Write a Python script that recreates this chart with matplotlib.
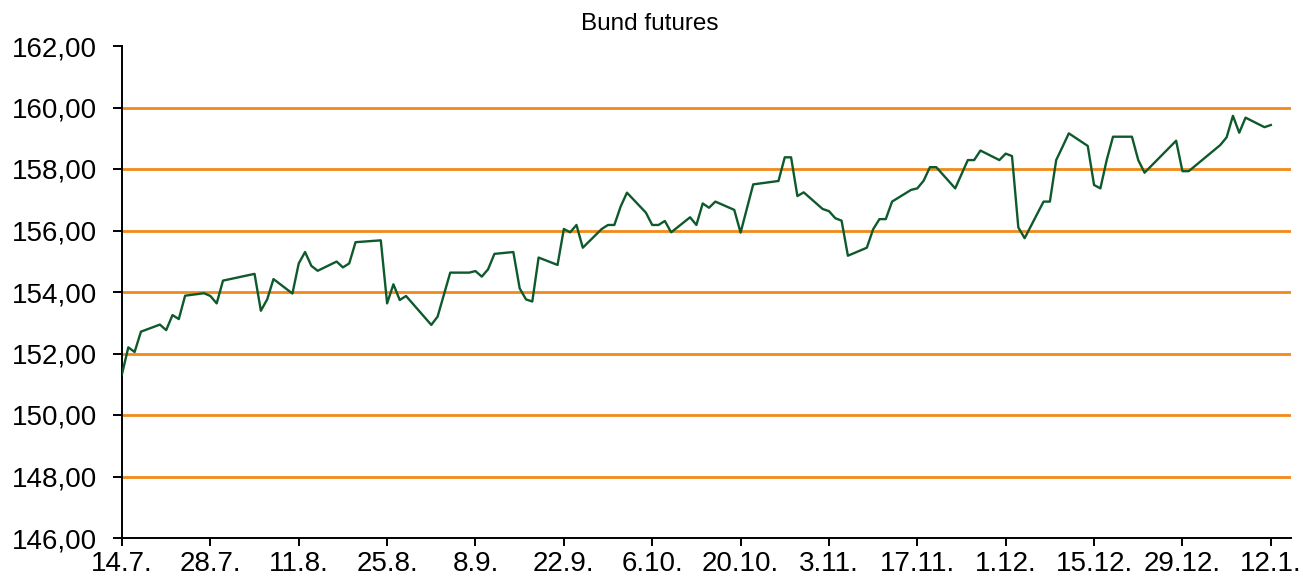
import matplotlib
matplotlib.use("Agg")
import matplotlib.pyplot as plt
import matplotlib.dates as mdates
import numpy as np
from datetime import datetime, timedelta

plt.rcParams['font.family'] = ['Liberation Sans', 'DejaVu Sans']

title = "Bund futures"

dates = [
    "2015-07-14", "2015-07-15", "2015-07-16", "2015-07-17", "2015-07-20", "2015-07-21",
    "2015-07-22", "2015-07-23", "2015-07-24", "2015-07-27", "2015-07-28", "2015-07-29",
    "2015-07-30", "2015-08-04", "2015-08-05", "2015-08-06", "2015-08-07", "2015-08-10",
    "2015-08-11", "2015-08-12", "2015-08-13", "2015-08-14", "2015-08-17", "2015-08-18",
    "2015-08-19", "2015-08-20", "2015-08-24", "2015-08-25", "2015-08-26", "2015-08-27",
    "2015-08-28", "2015-09-01", "2015-09-02", "2015-09-04", "2015-09-07", "2015-09-08",
    "2015-09-09", "2015-09-10", "2015-09-11", "2015-09-14", "2015-09-15", "2015-09-16",
    "2015-09-17", "2015-09-18", "2015-09-21", "2015-09-22", "2015-09-23", "2015-09-24",
    "2015-09-25", "2015-09-28", "2015-09-29", "2015-09-30", "2015-10-01", "2015-10-02",
    "2015-10-05", "2015-10-06", "2015-10-07", "2015-10-08", "2015-10-09", "2015-10-12",
    "2015-10-13", "2015-10-14", "2015-10-15", "2015-10-16", "2015-10-19", "2015-10-20",
    "2015-10-22", "2015-10-26", "2015-10-27", "2015-10-28", "2015-10-29", "2015-10-30",
    "2015-11-02", "2015-11-03", "2015-11-04", "2015-11-05", "2015-11-06", "2015-11-09",
    "2015-11-10", "2015-11-11", "2015-11-12", "2015-11-13", "2015-11-16", "2015-11-17",
    "2015-11-18", "2015-11-19", "2015-11-20", "2015-11-23", "2015-11-25", "2015-11-26",
    "2015-11-27", "2015-11-30", "2015-12-01", "2015-12-02", "2015-12-03", "2015-12-04",
    "2015-12-07", "2015-12-08", "2015-12-09", "2015-12-10", "2015-12-11", "2015-12-14",
    "2015-12-15", "2015-12-16", "2015-12-17", "2015-12-18", "2015-12-21", "2015-12-22",
    "2015-12-23", "2015-12-28", "2015-12-29", "2015-12-30", "2016-01-04", "2016-01-05",
    "2016-01-06", "2016-01-07", "2016-01-08", "2016-01-11", "2016-01-12",
]

values = [
    151.33, 152.20, 152.05, 152.71, 152.94, 152.76,
    153.25, 153.12, 153.88, 153.96, 153.87, 153.63,
    154.37, 154.59, 153.39, 153.76, 154.42, 153.95,
    154.93, 155.30, 154.85, 154.69, 154.99, 154.80,
    154.93, 155.62, 155.68, 153.63, 154.25, 153.74,
    153.87, 152.93, 153.20, 154.63, 154.63, 154.68,
    154.50, 154.74, 155.24, 155.30, 154.12, 153.76,
    153.69, 155.12, 154.88, 156.05, 155.94, 156.18,
    155.44, 156.05, 156.18, 156.18, 156.78, 157.23,
    156.58, 156.18, 156.18, 156.31, 155.94, 156.43,
    156.18, 156.88, 156.74, 156.94, 156.67, 155.93,
    157.50, 157.61, 158.38, 158.38, 157.12, 157.24,
    156.70, 156.63, 156.40, 156.32, 155.18, 155.44,
    156.04, 156.37, 156.37, 156.94, 157.32, 157.37,
    157.62, 158.06, 158.06, 157.37, 158.29, 158.29,
    158.60, 158.29, 158.50, 158.42, 156.10, 155.75,
    156.94, 156.94, 158.29, 158.72, 159.16, 158.75,
    157.48, 157.37, 158.29, 159.05, 159.05, 158.29,
    157.88, 158.92, 157.93, 157.93, 158.78, 159.03,
    159.73, 159.18, 159.67, 159.36, 159.43,
]

xtick_dates = [
    "2015-07-14", "2015-07-28", "2015-08-11", "2015-08-25", "2015-09-08", "2015-09-22",
    "2015-10-06", "2015-10-20", "2015-11-03", "2015-11-17", "2015-12-01", "2015-12-15",
    "2015-12-29", "2016-01-12",
]
xtick_labels = [
    "14.7.", "28.7.", "11.8.", "25.8.", "8.9.", "22.9.", "6.10.", "20.10.",
    "3.11.", "17.11.", "1.12.", "15.12.", "29.12.", "12.1.",
]
yticks = [146, 148, 150, 152, 154, 156, 158, 160, 162]
ytick_labels = ["146,00", "148,00", "150,00", "152,00", "154,00", "156,00",
                "158,00", "160,00", "162,00"]

W, H = 1307, 577
fig = plt.figure(figsize=(W / 100, H / 100), dpi=100)
ax = fig.add_axes([122 / W, 39 / H, (1291 - 122) / W, 492 / H])

x = [datetime.strptime(d, "%Y-%m-%d") for d in dates]
xt = [datetime.strptime(d, "%Y-%m-%d") for d in xtick_dates]

for g in yticks[1:-1]:
    ax.axhline(g, color="#F28A1A", lw=2.0, zorder=1)

ax.plot(x, values, color="#0E5A2C", lw=1.7, zorder=3)

ax.set_ylim(yticks[0], yticks[-1])
ax.set_yticks(yticks)
ax.set_yticklabels(ytick_labels)
ax.set_xlim(xt[0], xt[0] + timedelta(days=185.2))
ax.set_xticks(xt)
ax.set_xticklabels(xtick_labels)

for s in ["top", "right"]:
    ax.spines[s].set_visible(False)
for s in ["left", "bottom"]:
    ax.spines[s].set_linewidth(1.4)
    ax.spines[s].set_color("black")

ax.tick_params(axis="y", direction="out", length=6.5, width=1.4, pad=11.5,
               labelsize=20, colors="black")
ax.tick_params(axis="x", direction="out", length=6, width=1.4, pad=3.5,
               labelsize=20, colors="black")

fig.text(650 / W, 1 - 24 / H, title, ha="center", va="center", fontsize=17.5)

fig.savefig("out.png", dpi=100)
